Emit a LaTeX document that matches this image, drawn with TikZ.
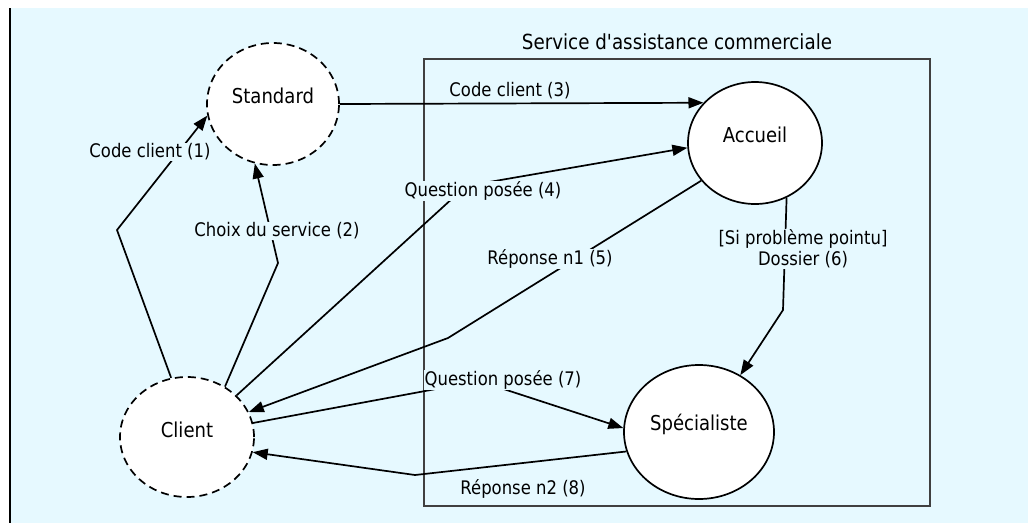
\documentclass[tikz,border=0pt]{standalone}
\usepackage{fontspec}
\setmainfont{DejaVu Sans}[FakeStretch=0.88,Ligatures=TeXOff]
\usetikzlibrary{shapes.geometric,arrows.meta}
\definecolor{bgc}{RGB}{230,249,255}
\definecolor{boxc}{RGB}{64,64,64}
\begin{document}
\begin{tikzpicture}[x=1pt,y=-1pt,
  proc/.style={ellipse,draw,line width=1.7pt,fill=white,inner sep=0pt,
    font=\fontsize{20.5}{24}\selectfont},
  ext/.style={proc,dash pattern=on 8pt off 5pt},
  lbl/.style={fill=bgc,inner sep=1pt,font=\fontsize{18.7}{21}\selectfont,align=center},
  flow/.style={line width=1.7pt,-{Triangle[length=15pt,width=11pt]}}]
\useasboundingbox (0,0) rectangle (1028,523);
\fill[white] (0,0) rectangle (1028,523);
\fill[bgc] (10,8) rectangle (1028,523);
\draw[line width=2pt] (10,8) -- (10,523);
% container
\node[draw=boxc,line width=1.7pt,minimum width=506pt,minimum height=447pt,inner sep=0pt] (svc) at (677,282.5) {};
\node[font=\fontsize{20.8}{24}\selectfont] (svct) at (677,42) {Service d'assistance commerciale};
% processes
\node[ext,minimum width=132pt,minimum height=122pt] (std) at (273,104) {\raisebox{8pt}[\height][\depth]{Standard}};
\node[ext,minimum width=134pt,minimum height=120pt] (cli) at (187,437) {\raisebox{7pt}[\height][\depth]{Client}};
\node[proc,minimum width=134pt,minimum height=122pt] (acc) at (755,143) {\raisebox{8pt}[\height][\depth]{Accueil}};
\node[proc,minimum width=150pt,minimum height=134pt] (spe) at (699,432) {\raisebox{8pt}[\height][\depth]{Spécialiste}};
% bend points
\coordinate (b1) at (117,230);
\coordinate (b2) at (278,263);
\coordinate (b4) at (466,186);
\coordinate (b5) at (448,338);
\coordinate (b6) at (783,310);
\coordinate (b7) at (479,381);
\coordinate (b8) at (415,475);
% flows
\draw[flow] (std.east) -- (acc.142);
\draw[flow] (cli.105) -- (b1) -- (std.190);
\draw[flow] (cli.53) -- (b2) -- (std.253);
\draw[flow] (cli.40) -- (b4) -- (acc.184);
\draw[flow] (acc.215) -- (b5) -- (cli.22);
\draw[flow] (acc.300) -- (b6) -- (spe.54);
\draw[flow] (cli.12) -- (b7) -- (spe.177);
\draw[flow] (spe.195) -- (b8) -- (cli.347);
% labels
\node[lbl] (l3) at (510,91) {Code client (3)};
\node[lbl] (l1) at (150,152) {Code client (1)};
\node[lbl] (l2) at (277,231) {Choix du service (2)};
\node[lbl] (l4) at (483,191) {Question posée (4)};
\node[lbl] (l5) at (550,259) {Réponse n1 (5)};
\node[lbl] (l6) at (803,249) {[Si problème pointu]\\Dossier (6)};
\node[lbl] (l7) at (503,380) {Question posée (7)};
\node[lbl] (l8) at (523,489) {Réponse n2 (8)};
\end{tikzpicture}
\end{document}
